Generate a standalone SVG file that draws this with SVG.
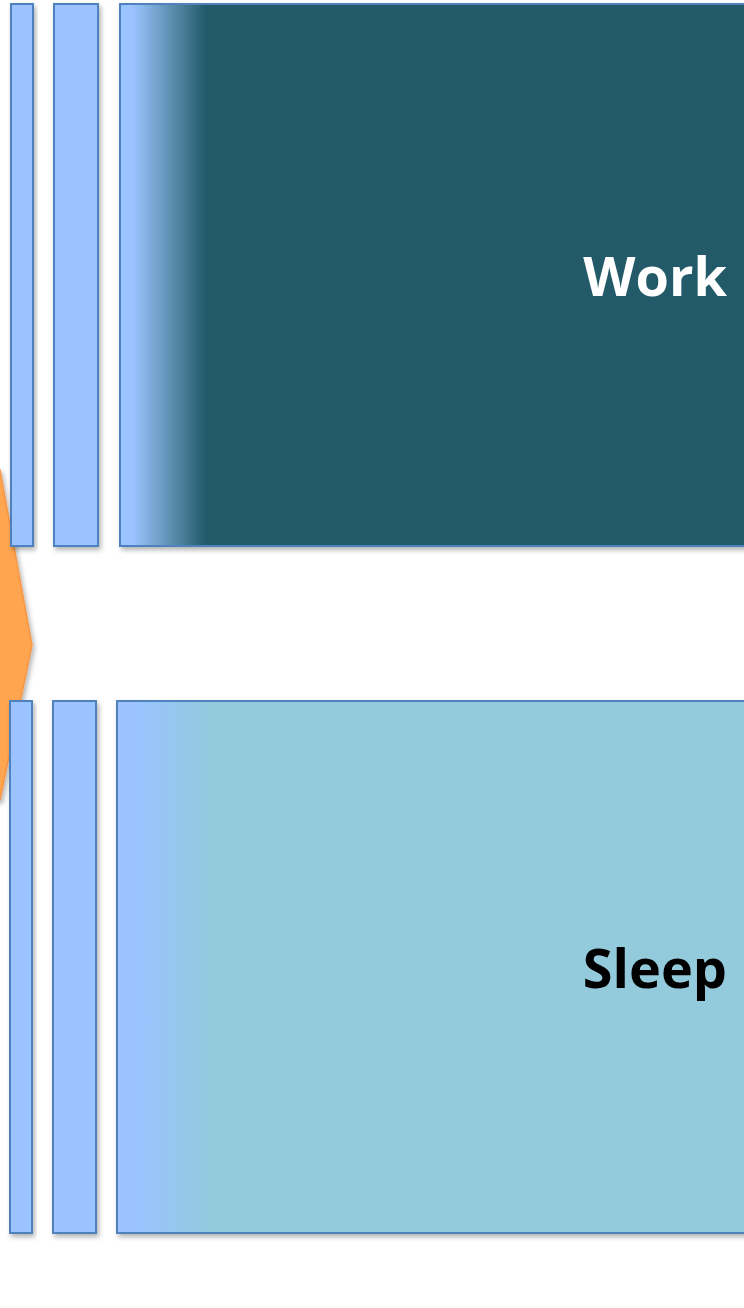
<svg xmlns="http://www.w3.org/2000/svg" width="744" height="1308" viewBox="0 0 744 1308">
<style>
.bar{fill:#9AC3FF;stroke:#4F81BD;stroke-width:2;filter:url(#sh)}
.lbl{font-family:"Open Sans","Noto Sans",sans-serif;font-weight:bold;font-size:54px;text-anchor:end}
</style>
<defs>
<filter id="sh" x="-10%" y="-10%" width="130%" height="130%">
<feDropShadow dx="2" dy="3" stdDeviation="2.5" flood-color="#000" flood-opacity="0.3"/>
</filter>
<linearGradient id="gTop" gradientUnits="userSpaceOnUse" x1="120" y1="0" x2="206" y2="0">
<stop offset="0" stop-color="#9AC3FF"/>
<stop offset="0.15" stop-color="#9AC3FF"/>
<stop offset="0.5" stop-color="#6A9AC0"/>
<stop offset="1" stop-color="#225A69"/>
</linearGradient>
<linearGradient id="gBot" gradientUnits="userSpaceOnUse" x1="140" y1="0" x2="212" y2="0">
<stop offset="0" stop-color="#9AC3FF"/>
<stop offset="1" stop-color="#93CADC"/>
</linearGradient>
</defs>
<rect width="744" height="1308" fill="#fff"/>
<g id="arrow">
<polygon points="-40,470 0,470 32,645 0,800 -40,800" fill="#FFA54F" stroke="#F79646" stroke-width="1.5" filter="url(#sh)"/>
</g>
<g id="work">
<rect class="bar" x="11" y="4" width="22" height="542"/>
<rect class="bar" x="54" y="4" width="44" height="542"/>
<rect x="120" y="4" width="640" height="542" fill="url(#gTop)" stroke="#4F81BD" stroke-width="2" filter="url(#sh)"/>
<text class="lbl" x="727" y="296" fill="#fff">Work</text>
</g>
<g id="sleep">
<rect class="bar" x="10" y="701" width="22" height="532"/>
<rect class="bar" x="53" y="701" width="43" height="532"/>
<rect x="117" y="701" width="643" height="532" fill="url(#gBot)" stroke="#4F81BD" stroke-width="2" filter="url(#sh)"/>
<text class="lbl" x="727" y="988" fill="#000">Sleep</text>
</g>
<g id="connectors"/>
</svg>
